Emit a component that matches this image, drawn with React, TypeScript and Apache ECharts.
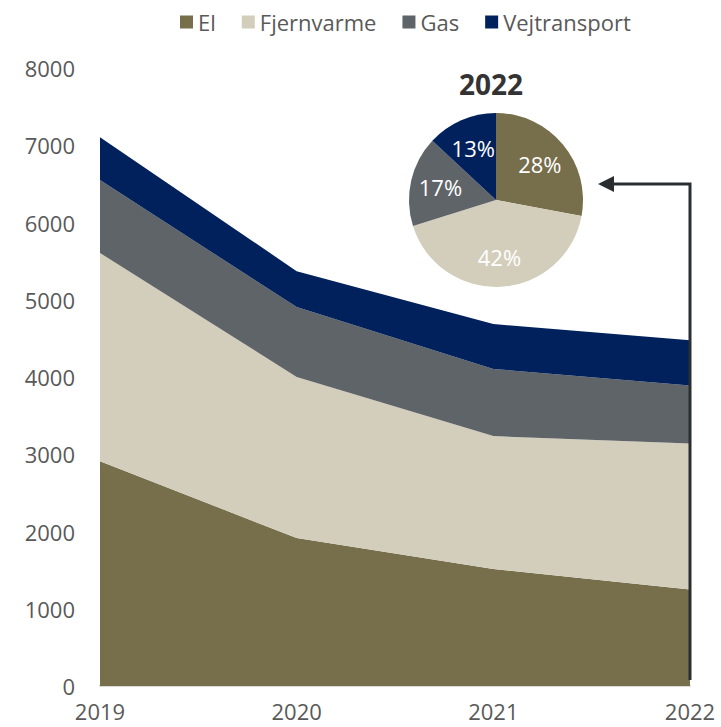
import React, { useEffect, useRef } from "react";
import * as echarts from "echarts";

const years = ["2019", "2020", "2021", "2022"];
const el = [2910, 1915, 1515, 1250];
const fjernvarme = [2695, 2085, 1720, 1890];
const gas = [945, 905, 870, 750];
const vejtransport = [555, 465, 580, 585];
const yTicks = [0, 1000, 2000, 3000, 4000, 5000, 6000, 7000, 8000];

const names = ["El", "Fjernvarme", "Gas", "Vejtransport"];
const colors = ["#776E4C", "#D3CEBB", "#5F6469", "#00215B"];
const FONT = "Open Sans";

export default function App() {
  const ref = useRef<HTMLDivElement>(null);
  useEffect(() => {
    if (!ref.current) return;
    const chart = echarts.init(ref.current, undefined, { renderer: "svg" });
    const seriesData = [el, fjernvarme, gas, vejtransport];
    const last = years.length - 1;
    const pieVals = seriesData.map((s) => s[last]);
    const total = pieVals.reduce((a, b) => a + b, 0);
    const pieData = names.map((n, i) => ({
      name: n,
      value: pieVals[i],
      itemStyle: { color: colors[i] },
    }));
    chart.setOption({
      animation: false,
      textStyle: { fontFamily: FONT },
      color: colors,
      legend: {
        top: 6,
        left: 175,
        data: names,
        icon: "rect",
        itemWidth: 13,
        itemHeight: 13,
        itemGap: 26,
        textStyle: { fontFamily: FONT, fontSize: 22, color: "#595959" },
      },
      grid: { left: 100, right: 31, top: 68, bottom: 41 },
      xAxis: {
        type: "category",
        data: years,
        boundaryGap: false,
        axisLine: { show: true, lineStyle: { color: "#D9D9D9", width: 2 } },
        axisTick: { show: false },
        axisLabel: { fontFamily: FONT, fontSize: 22, color: "#595959", margin: 14 },
      },
      yAxis: {
        type: "value",
        min: yTicks[0],
        max: yTicks[yTicks.length - 1],
        interval: 1000,
        splitLine: { show: false },
        axisLine: { show: false },
        axisTick: { show: false },
        axisLabel: {
          fontFamily: FONT,
          fontSize: 22,
          color: "#595959",
          margin: 25,
          formatter: (v: number) => String(v),
        },
      },
      series: [
        ...names.map((n, i) => ({
          name: n,
          type: "line",
          stack: "total",
          data: seriesData[i],
          symbol: "none",
          lineStyle: { width: 0 },
          areaStyle: { color: colors[i], opacity: 1 },
          itemStyle: { color: colors[i] },
          z: 2,
        })),
        {
          type: "pie",
          center: [496, 200],
          radius: 87,
          startAngle: 90,
          clockwise: true,
          z: 5,
          label: { show: false },
          labelLine: { show: false },
          emphasis: { disabled: true },
          data: pieData,
        },
        {
          type: "pie",
          center: [496, 200],
          radius: [21, 87],
          startAngle: 90,
          clockwise: true,
          z: 6,
          silent: true,
          label: {
            position: "inside",
            color: "#FFFFFF",
            fontFamily: FONT,
            fontSize: 22,
            formatter: (p: any) => Math.round((p.value / total) * 100) + "%",
          },
          labelLine: { show: false },
          emphasis: { disabled: true },
          data: pieData.map((d) => ({ ...d, itemStyle: { color: "rgba(0,0,0,0)" } })),
        },
      ],
      graphic: [
        {
          type: "text",
          left: 459,
          top: 70,
          style: {
            text: years[last],
            fontFamily: FONT,
            fontSize: 28,
            fontWeight: "bold",
            fill: "#333333",
          },
        },
        {
          type: "polyline",
          shape: { points: [[690, 680], [690, 184], [612, 184]] },
          style: { stroke: "#2B2E30", lineWidth: 3, fill: "none" },
          z: 10,
        },
        {
          type: "polygon",
          shape: { points: [[598, 184], [614, 176], [614, 192]] },
          style: { fill: "#2B2E30" },
          z: 10,
        },
      ],
    });
    return () => chart.dispose();
  }, []);
  return <div ref={ref} style={{ width: 721, height: 727, position: "absolute", left: 0, top: 0 }} />;
}
